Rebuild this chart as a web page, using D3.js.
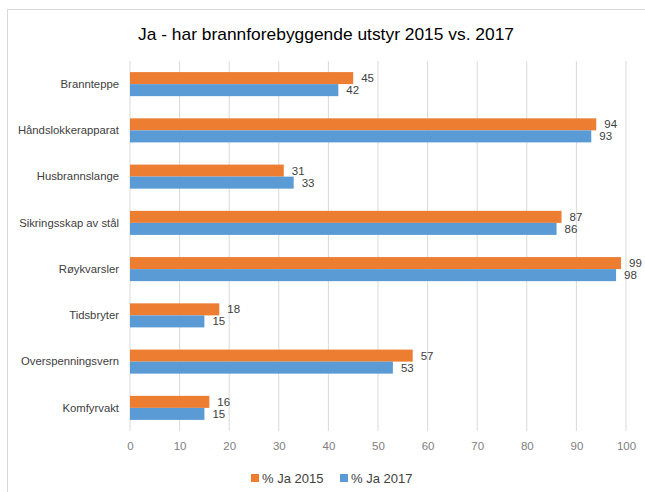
<!DOCTYPE html>
<html>
<head>
<meta charset="utf-8">
<script src="https://cdn.jsdelivr.net/npm/d3@7"></script>
<style>
body{margin:0;background:#fff;}
text{font-family:"Liberation Sans",Arial,sans-serif;}
</style>
</head>
<body>
<svg id="chart" width="645" height="492"></svg>
<script>
// data
var categories=["Brannteppe","Håndslokkerapparat","Husbrannslange","Sikringsskap av stål","Røykvarsler","Tidsbryter","Overspenningsvern","Komfyrvakt"];
var ja2015=[45,94,31,87,99,18,57,16];
var ja2017=[42,93,33,86,98,15,53,15];
var seriesNames=["% Ja 2015","% Ja 2017"];
var seriesColors=["#ED7D31","#5B9BD5"];
var xTicks=[0,10,20,30,40,50,60,70,80,90,100];

var svg=d3.select("#chart");

//outer frame (only top/left visible in the crop)
svg.append("rect")
	.attr("x",7.5).attr("y",9.5)
	.attr("width",700).attr("height",600)
	.attr("fill","#fff")
	.attr("stroke","#d9d9d9");

var plot={left:130,right:626,top:61,bottom:431};

var x=d3.scaleLinear().domain([0,100]).range([plot.left,plot.right]);
var y=d3.scaleBand().domain(categories).range([plot.top,plot.bottom]).paddingInner(0.48).paddingOuter(0.24);
var ySub=d3.scaleBand().domain([0,1]).range([0,y.bandwidth()]);

//title
svg.append("text")
	.attr("x",326).attr("y",40)
	.attr("text-anchor","middle")
	.attr("font-size",17)
	.attr("textLength",376)
	.attr("lengthAdjust","spacingAndGlyphs")
	.attr("fill","#000")
	.text("Ja - har brannforebyggende utstyr 2015 vs. 2017");

//gridlines
svg.append("g").selectAll("line")
	.data(xTicks)
	.enter().append("line")
	.attr("x1",function(d){return x(d);})
	.attr("x2",function(d){return x(d);})
	.attr("y1",plot.top).attr("y2",plot.bottom)
	.attr("stroke","#d9d9d9")
	.attr("stroke-width",1);

//x axis labels
var xAxis=d3.axisBottom(x).tickValues(xTicks).tickSize(0).tickPadding(11);
var gx=svg.append("g").attr("transform","translate(0,"+plot.bottom+")").call(xAxis);
gx.select(".domain").remove();
gx.selectAll("text").attr("font-size",11.5).attr("fill","#808080").style("font-family","Liberation Sans, Arial, sans-serif");

//y axis labels
var yAxis=d3.axisLeft(y).tickSize(0).tickPadding(11);
var gy=svg.append("g").attr("transform","translate("+plot.left+",0)").call(yAxis);
gy.select(".domain").remove();
gy.selectAll("text").attr("font-size",11.3).attr("fill","#404040").style("font-family","Liberation Sans, Arial, sans-serif");

//bars
var rows=categories.map(function(c,i){return {cat:c,vals:[ja2015[i],ja2017[i]]};});
var groups=svg.append("g").selectAll("g")
	.data(rows)
	.enter().append("g")
	.attr("transform",function(d){return "translate(0,"+y(d.cat)+")";});

groups.selectAll("rect")
	.data(function(d){return d.vals.map(function(v,k){return {v:v,k:k};});})
	.enter().append("rect")
	.attr("x",x(0))
	.attr("y",function(d){return ySub(d.k);})
	.attr("width",function(d){return x(d.v)-x(0);})
	.attr("height",ySub.bandwidth())
	.attr("fill",function(d){return seriesColors[d.k];});

groups.selectAll("text")
	.data(function(d){return d.vals.map(function(v,k){return {v:v,k:k};});})
	.enter().append("text")
	.attr("x",function(d){return x(d.v)+8;})
	.attr("y",function(d){return ySub(d.k)+ySub.bandwidth()/2;})
	.attr("dy","0.35em")
	.attr("font-size",11.5)
	.attr("fill","#404040")
	.text(function(d){return d.v;});

//legend
var legendX=[251,340];
var legend=svg.append("g").selectAll("g")
	.data(seriesNames)
	.enter().append("g")
	.attr("transform",function(d,i){return "translate("+legendX[i]+",474)";});
legend.append("rect").attr("width",8).attr("height",8).attr("fill",function(d,i){return seriesColors[i];});
legend.append("text").attr("x",11).attr("y",4).attr("dy","0.35em").attr("font-size",13).attr("fill","#404040").text(function(d){return d;});
</script>
</body>
</html>
